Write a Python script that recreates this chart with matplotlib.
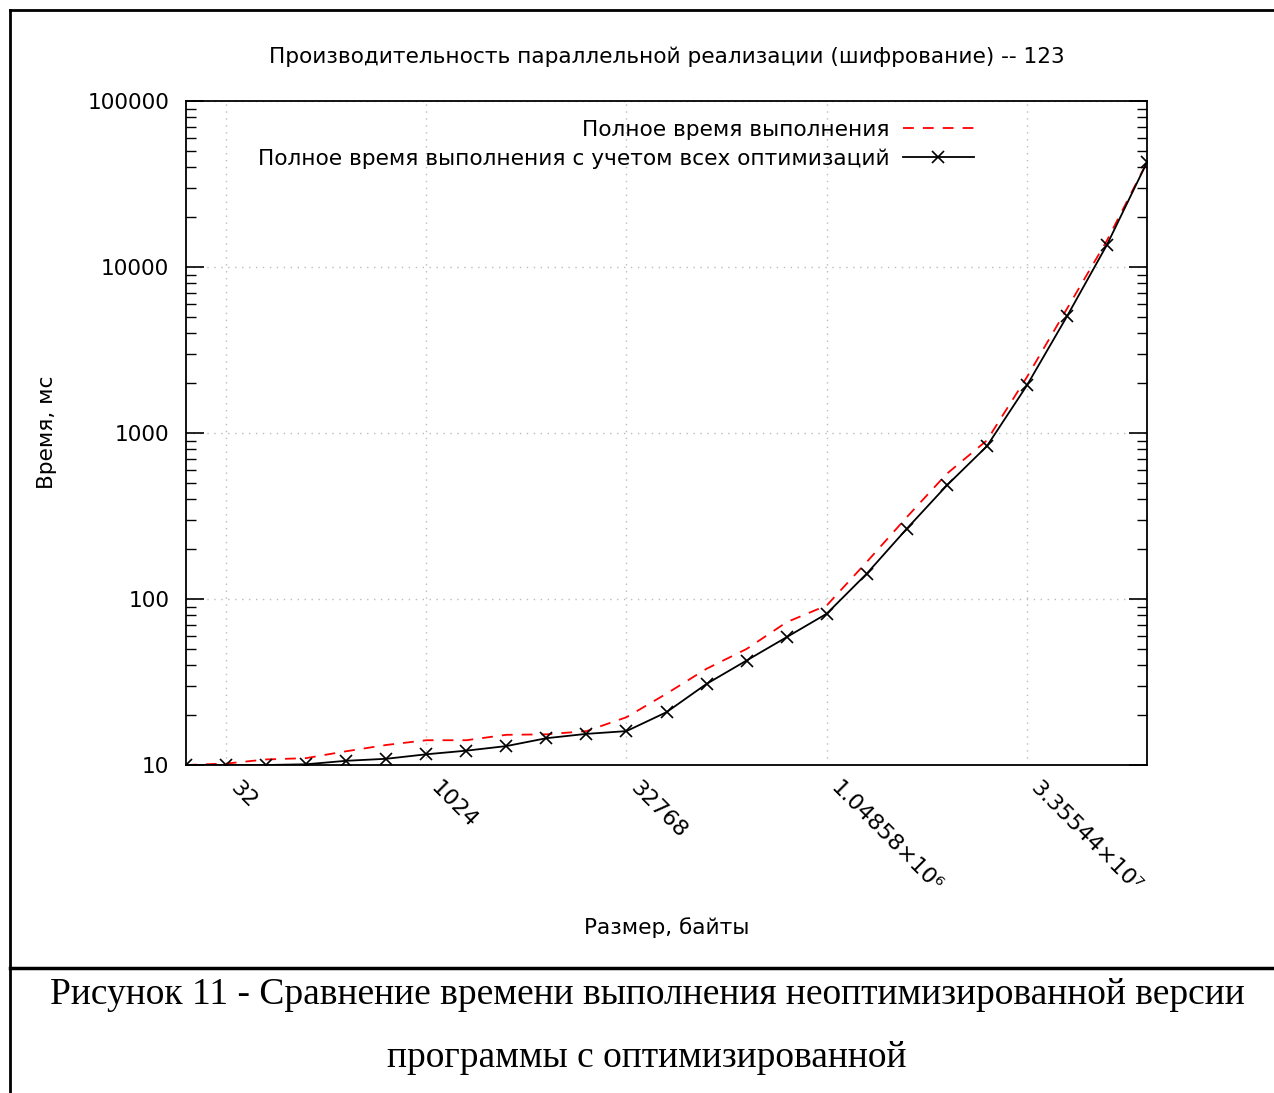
import matplotlib.pyplot as plt
from matplotlib.lines import Line2D

sizes = [16, 32, 64, 128, 256, 512, 1024, 2048, 4096, 8192, 16384, 32768,
         65536, 131072, 262144, 524288, 1048576, 2097152, 4194304, 8388608,
         16777216, 33554432, 67108864, 134217728, 268435456]
time_full = [10, 10.2, 10.8, 11.0, 12.1, 13.2, 14.1, 14.1, 15.2, 15.3, 16.0, 19.4,
             26.9, 38.0, 50.0, 72.5, 91.4, 167, 311, 568, 902, 2170, 5600, 14450, 42760]
time_opt = [10, 10, 10, 10.1, 10.6, 10.9, 11.6, 12.2, 13.0, 14.5, 15.4, 16.0,
            20.8, 30.8, 42.6, 58.9, 81.5, 142, 265, 483, 832, 1933, 5035, 13610, 42760]

xtick_vals = [32, 1024, 32768, 1048576, 33554432]
xtick_labels = ['32', '1024', '32768', '1.04858×10⁶', '3.35544×10⁷']
ytick_vals = [10, 100, 1000, 10000, 100000]
ytick_labels = ['10', '100', '1000', '10000', '100000']

W, H = 1274, 1093
fs = 15.6
fig = plt.figure(figsize=(W / 100, H / 100), dpi=100)
ax = fig.add_axes([186 / W, 1 - 765 / H, (1147 - 186) / W, (765 - 101) / H])

ax.plot(sizes, time_full, color='red', linestyle=(0, (6, 5)), linewidth=1.3,
        label='Полное время выполнения')
ax.plot(sizes, time_opt, color='black', linewidth=1.3, marker='x', markersize=8.5,
        markeredgewidth=1.2, label='Полное время выполнения с учетом всех оптимизаций')

ax.set_xscale('log', base=2)
ax.set_yscale('log')
ax.set_xlim(16, 268435456)
ax.set_ylim(10, 100000)

ax.set_xticks(xtick_vals)
ax.set_xticklabels(xtick_labels, rotation=-45, ha='left', va='bottom',
                   rotation_mode='anchor', fontsize=16)
ax.xaxis.set_minor_locator(plt.NullLocator())
ax.tick_params(axis='x', length=0, pad=19)

ax.set_yticks(ytick_vals)
ax.set_yticklabels(ytick_labels, fontsize=fs)
ax.tick_params(axis='y', which='major', direction='in', length=13, width=1.2,
               right=True, pad=12)
ax.tick_params(axis='y', which='minor', direction='in', length=7, width=1.0, right=True)

ax.grid(True, which='major', color='#bbbbbb', linestyle=(0, (1, 4)), linewidth=1)
for sp in ax.spines.values():
    sp.set_linewidth(1.3)

ax.legend(loc='upper right', bbox_to_anchor=(0.829, 0.985), frameon=False,
          markerfirst=False, fontsize=fs, handlelength=3.3, handletextpad=0.6,
          labelspacing=0.4, borderaxespad=0)

fig.text(667 / W, 1 - 57 / H, 'Производительность параллельной реализации (шифрование) -- 123',
         ha='center', va='center', fontsize=fs)
fig.text(47 / W, 1 - 432 / H, 'Время, мс', rotation=90, ha='center', va='center', fontsize=fs)
fig.text(667 / W, 1 - 928 / H, 'Размер, байты', ha='center', va='center', fontsize=fs)

# page frame and caption
fig.add_artist(Line2D([9.5 / W, 9.5 / W], [0, 1 - 10 / H], color='black', linewidth=2))
fig.add_artist(Line2D([9.5 / W, 1], [1 - 10 / H, 1 - 10 / H], color='black', linewidth=2))
fig.add_artist(Line2D([9.5 / W, 1], [1 - 968 / H, 1 - 968 / H], color='black', linewidth=2.5))
fig.text(647 / W, 1 - 995 / H,
         'Рисунок 11 - Сравнение времени выполнения неоптимизированной версии',
         ha='center', va='center', fontsize=27, family='Liberation Serif')
fig.text(647 / W, 1 - 1058 / H, 'программы с оптимизированной',
         ha='center', va='center', fontsize=27, family='Liberation Serif')

fig.savefig('out.png', dpi=100)
